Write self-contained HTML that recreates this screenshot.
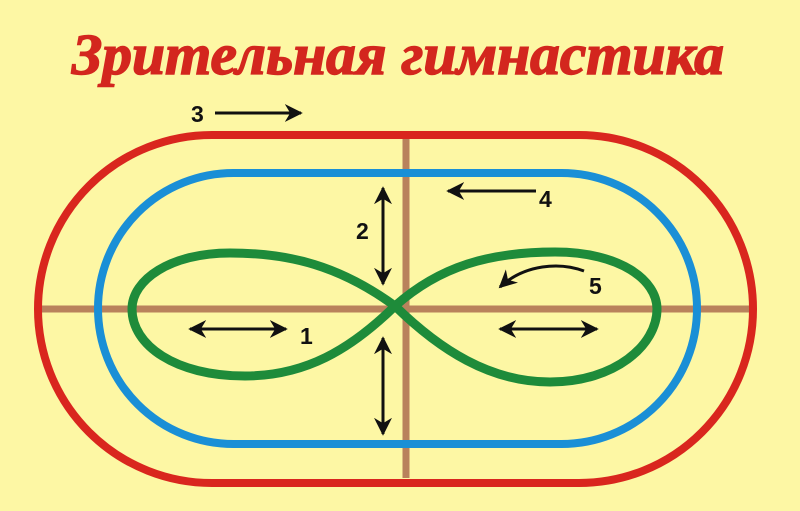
<!DOCTYPE html>
<html><head><meta charset="utf-8"><style>html,body{margin:0;padding:0;background:#fdf7a4;}svg{display:block}</style></head>
<body>
<svg width="800" height="511" viewBox="0 0 800 511" xmlns="http://www.w3.org/2000/svg">
<defs>
<marker id="ah" viewBox="0 0 10 10" refX="9" refY="5" markerWidth="6" markerHeight="6" orient="auto-start-reverse" markerUnits="strokeWidth">
<path d="M0,0 L10,5 L0,10 L3,5 Z" fill="#111"/></marker>
</defs>
<rect width="800" height="511" fill="#fdf7a4"/>
<text x="398" y="74" text-anchor="middle" font-family="Liberation Serif, serif" font-style="italic" font-weight="bold" font-size="58" fill="#d3261e" stroke="#d3261e" stroke-width="1.5" textLength="652" lengthAdjust="spacingAndGlyphs">Зрительная гимнастика</text>
<line x1="406" y1="135" x2="406" y2="478" stroke="#b9825c" stroke-width="7"/>
<line x1="40" y1="309" x2="750" y2="309" stroke="#b9825c" stroke-width="7"/>
<rect x="38" y="135" width="715" height="348" rx="174" ry="174" fill="none" stroke="#d9261e" stroke-width="8"/>
<rect x="98" y="173" width="599" height="271" rx="135.5" ry="135.5" fill="none" stroke="#1a8fd6" stroke-width="8"/>
<path d="M395,306 C340,266 290,253 230,253 C170,253 132,280 132,309 C132,345 175,376 245,376 C305,376 350,350 395,306 C440,266 490,252 555,252 C620,252 657,280 657,309 C657,345 615,382 550,382 C490,382 440,350 395,306Z" fill="none" stroke="#1e8b3a" stroke-width="9"/>
<g stroke="#111" stroke-width="3" fill="none">
<line x1="215" y1="113" x2="301" y2="113" marker-end="url(#ah)"/>
<line x1="383" y1="188" x2="383" y2="284" marker-start="url(#ah)" marker-end="url(#ah)"/>
<line x1="383" y1="338" x2="383" y2="434" marker-start="url(#ah)" marker-end="url(#ah)"/>
<line x1="536" y1="191" x2="448" y2="191" marker-end="url(#ah)"/>
<line x1="190" y1="329" x2="286" y2="329" marker-start="url(#ah)" marker-end="url(#ah)"/>
<line x1="500" y1="329" x2="597" y2="329" marker-start="url(#ah)" marker-end="url(#ah)"/>
<path d="M584,271 C560,262 525,264 500,287" marker-end="url(#ah)"/>
</g>
<g font-family="Liberation Sans, sans-serif" font-weight="bold" font-size="23" fill="#111">
<text x="191" y="122">3</text>
<text x="356" y="239">2</text>
<text x="539" y="207">4</text>
<text x="300" y="344">1</text>
<text x="589" y="294">5</text>
</g>
</svg>
</body></html>
